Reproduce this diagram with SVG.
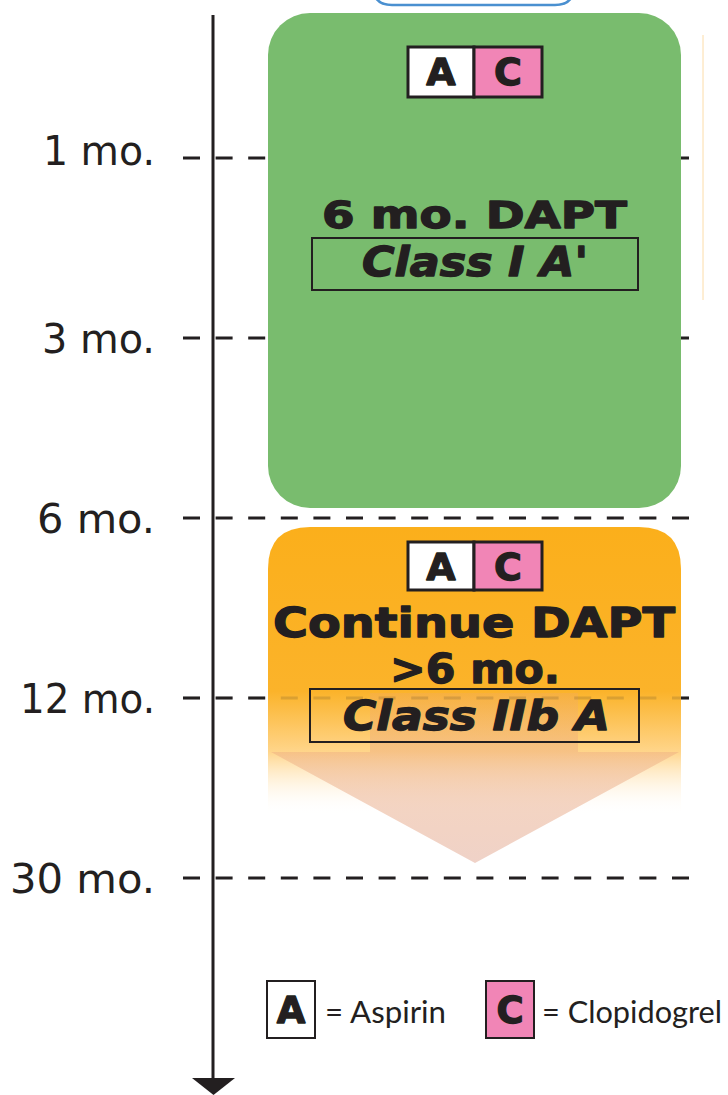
<svg xmlns="http://www.w3.org/2000/svg" width="728" height="1095" viewBox="0 0 728 1095">
<defs>
<style>
.lbl{font-family:"DejaVu Sans","Liberation Sans",sans-serif;font-size:40px;fill:#231F20;text-anchor:end}
.big{font-family:"DejaVu Sans","Liberation Sans",sans-serif;font-weight:bold;fill:#231F20;stroke:#231F20;stroke-width:1.3px;stroke-linejoin:round;text-anchor:middle}
.ital{font-style:italic}
.leg{font-family:Lato,"Liberation Sans",sans-serif;font-size:31.5px;fill:#231F20}
.dash{stroke:#231F20;stroke-width:3;stroke-dasharray:17 15.6;fill:none}
.frame{fill:none;stroke:#231F20;stroke-width:2}
.bw{fill:#fff;stroke:#231F20;stroke-width:3}
.bp{fill:#F185B6;stroke:#231F20;stroke-width:3}
</style>
<linearGradient id="og" gradientUnits="userSpaceOnUse" x1="0" y1="527" x2="0" y2="815">
<stop offset="0" stop-color="#FBAF1B"/>
<stop offset="0.57" stop-color="#FBB32A"/>
<stop offset="0.78" stop-color="#FFD58A"/>
<stop offset="1" stop-color="#FFFFFF" stop-opacity="0"/>
</linearGradient>
<linearGradient id="ag" gradientUnits="userSpaceOnUse" x1="0" y1="693" x2="0" y2="863">
<stop offset="0" stop-color="#EFA868" stop-opacity="0.3"/>
<stop offset="0.35" stop-color="#EDAC80" stop-opacity="0.47"/>
<stop offset="1" stop-color="#E9BFB0" stop-opacity="0.7"/>
</linearGradient>
</defs>
<rect x="0" y="0" width="728" height="1095" fill="#fff"/>

<g id="cropped-top">
<path d="M373,-20 L373,-14 Q373,5 392,5 L555,5 Q574,5 574,-14 L574,-20" fill="#fff" stroke="#4A90D0" stroke-width="2.5"/>
<line x1="703" y1="35" x2="703" y2="300" stroke="#FCDCA8" stroke-width="1"/>
</g>

<g id="connectors">
<line class="dash" x1="183" y1="158" x2="690" y2="158"/>
<line class="dash" x1="183" y1="338" x2="690" y2="338"/>
<line class="dash" x1="183" y1="518" x2="690" y2="518"/>
<line class="dash" x1="183" y1="698" x2="690" y2="698"/>
<line class="dash" x1="183" y1="878" x2="690" y2="878"/>
</g>

<g id="labels">
<text class="lbl" x="155" y="165" textLength="112" lengthAdjust="spacingAndGlyphs">1 mo.</text>
<text class="lbl" x="155" y="353" textLength="113" lengthAdjust="spacingAndGlyphs">3 mo.</text>
<text class="lbl" x="155" y="533" textLength="118" lengthAdjust="spacingAndGlyphs">6 mo.</text>
<text class="lbl" x="155" y="713" textLength="135" lengthAdjust="spacingAndGlyphs">12 mo.</text>
<text class="lbl" x="155" y="893" textLength="145" lengthAdjust="spacingAndGlyphs">30 mo.</text>
</g>

<g id="node-6mo-dapt">
<rect x="268" y="13" width="413" height="495" rx="42" ry="42" fill="#79BC6E"/>
<rect class="bw" x="408" y="47" width="66" height="50"/>
<rect class="bp" x="474" y="47" width="68" height="50"/>
<text class="big" x="441" y="85" font-size="38">A</text>
<text class="big" x="508" y="85" font-size="38">C</text>
<text class="big" x="474.5" y="228" font-size="37" textLength="305" lengthAdjust="spacingAndGlyphs">6 mo. DAPT</text>
<rect class="frame" x="312" y="238" width="326" height="52"/>
<text class="big ital" x="475" y="276" font-size="40" textLength="226" lengthAdjust="spacingAndGlyphs">Class I A'</text>
</g>

<g id="node-continue-dapt">
<path d="M268,569 Q268,527 310,527 L639,527 Q681,527 681,569 L681,815 L268,815 Z" fill="url(#og)"/>
<path d="M370,693 L578,693 L578,752 L679,752 L475,863 L271,752 L370,752 Z" fill="url(#ag)"/>
<line class="dash" x1="183" y1="698" x2="690" y2="698" opacity="0.15"/>
<rect class="bw" x="408" y="542" width="66" height="48"/>
<rect class="bp" x="474" y="542" width="68" height="48"/>
<text class="big" x="441" y="580" font-size="38">A</text>
<text class="big" x="508" y="580" font-size="38">C</text>
<text class="big" x="474" y="637" font-size="41" textLength="402" lengthAdjust="spacingAndGlyphs">Continue DAPT</text>
<text class="big" x="475" y="683" font-size="41" textLength="170" lengthAdjust="spacingAndGlyphs">&gt;6 mo.</text>
<rect class="frame" x="310" y="689" width="329" height="53"/>
<text class="big ital" x="476.5" y="730" font-size="40" textLength="267" lengthAdjust="spacingAndGlyphs">Class IIb A</text>
</g>

<g id="axis">
<line x1="213" y1="15" x2="213" y2="1080" stroke="#231F20" stroke-width="3"/>
<polygon points="192,1078 235,1078 213.5,1095" fill="#231F20"/>
</g>

<g id="legend">
<rect x="267" y="981" width="48" height="57" fill="#fff" stroke="#231F20" stroke-width="2"/>
<text class="big" x="291" y="1023" font-size="37">A</text>
<text class="leg" x="325" y="1023" textLength="121" lengthAdjust="spacingAndGlyphs">= Aspirin</text>
<rect x="486" y="981" width="48" height="57" fill="#F185B6" stroke="#231F20" stroke-width="2"/>
<text class="big" x="510" y="1023" font-size="37">C</text>
<text class="leg" x="542" y="1023" textLength="180" lengthAdjust="spacingAndGlyphs">= Clopidogrel</text>
</g>
</svg>
